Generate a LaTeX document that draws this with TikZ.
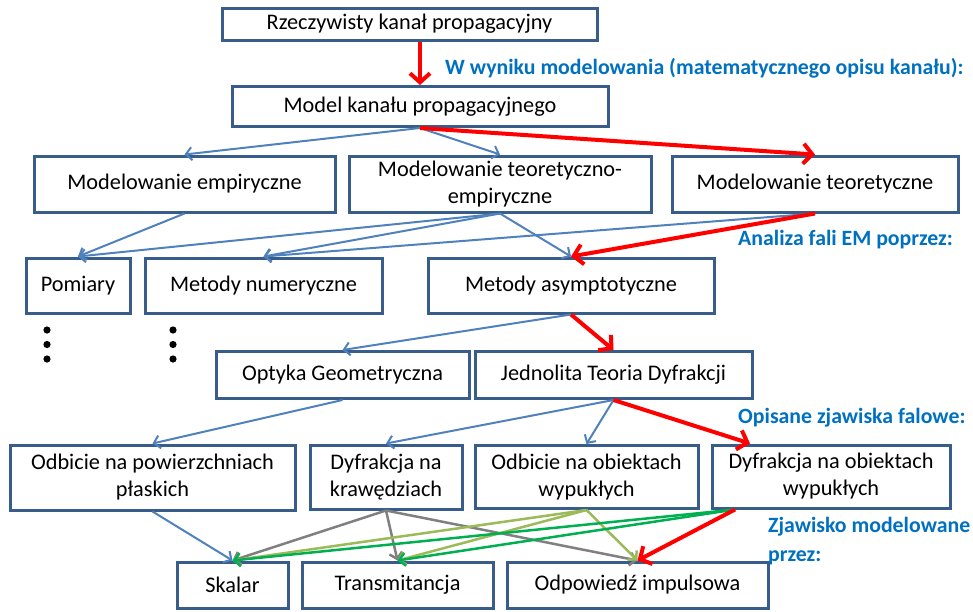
\documentclass[tikz,border=0pt]{standalone}
\usepackage{fontspec}
\setmainfont{Carlito}
\usetikzlibrary{arrows.meta}
\definecolor{boxc}{HTML}{385D8A}
\definecolor{bluec}{HTML}{4F81BD}
\definecolor{labc}{HTML}{0070C0}
\definecolor{grayc}{HTML}{808080}
\definecolor{lgreen}{HTML}{9BBB59}
\definecolor{dgreen}{HTML}{00B050}
\tikzset{
  box/.style={draw=boxc, line width=3pt, fill=white, inner sep=0pt, align=center,
    font=\fontsize{22.3}{27}\selectfont},
  lab/.style={text=labc, font=\bfseries\fontsize{21.8}{29}\selectfont, inner sep=0pt, anchor=west, align=left},
  bl/.style={draw=bluec, line width=2pt, -{Straight Barb[length=6pt,width=13pt]}},
  rd/.style={draw=red, line width=4pt, -{Straight Barb[length=9pt,width=20pt]}},
  gy/.style={draw=grayc, line width=2.5pt, -{Straight Barb[length=6pt,width=13pt]}},
  lg/.style={draw=lgreen, line width=2.5pt, -{Straight Barb[length=6pt,width=13pt]}},
  dg/.style={draw=dgreen, line width=2.5pt, -{Straight Barb[length=6pt,width=13pt]}},
  dotc/.style={fill=black}
}
\begin{document}
\begin{tikzpicture}[x=1pt,y=-1pt]
\useasboundingbox (0,0) rectangle (973,611);
% boxes
\node[box, minimum width=375pt, minimum height=32pt] (r) at (409.5,24) {Rzeczywisty kanał propagacyjny};
\node[box, minimum width=376pt, minimum height=40pt] (m) at (420,106.5) {Model kanału propagacyjnego};
\node[box, minimum width=301pt, minimum height=56pt] (emp) at (184.5,184) {Modelowanie empiryczne};
\node[box, minimum width=302pt, minimum height=56pt] (te) at (500,184) {Modelowanie teoretyczno-\\empiryczne};
\node[box, minimum width=286pt, minimum height=56pt] (teo) at (815,184) {Modelowanie teoretyczne};
\node[box, minimum width=104pt, minimum height=55pt] (pom) at (78,285.5) {Pomiary};
\node[box, minimum width=237pt, minimum height=55pt] (num) at (263.5,285.5) {Metody numeryczne};
\node[box, minimum width=286pt, minimum height=55pt] (asy) at (571,285.5) {Metody asymptotyczne};
\node[box, minimum width=253pt, minimum height=47pt] (opt) at (342.5,375) {Optyka Geometryczna};
\node[box, minimum width=277pt, minimum height=47pt] (jtd) at (613.5,375) {Jednolita Teoria Dyfrakcji};
\node[box, minimum width=285pt, minimum height=65pt] (odp) at (152.5,477.5) {Odbicie na powierzchniach\\płaskich};
\node[box, minimum width=152pt, minimum height=64pt] (dk) at (386,477) {Dyfrakcja na\\krawędziach};
\node[box, minimum width=223pt, minimum height=63pt] (oo) at (586.5,477) {Odbicie na obiektach\\wypukłych};
\node[box, minimum width=238pt, minimum height=63pt] (do) at (831,476.5) {Dyfrakcja na obiektach\\wypukłych};
\node[box, minimum width=111pt, minimum height=46pt] (sk) at (232.5,585) {Skalar};
\node[box, minimum width=191pt, minimum height=46pt] (tr) at (397.5,585) {Transmitancja};
\node[box, minimum width=261pt, minimum height=46pt] (oi) at (637.5,585) {Odpowiedź impulsowa};
% labels
\node[lab] (l1) at (445,68) {W wyniku modelowania (matematycznego opisu kanału):};
\node[lab] (l2) at (738,240) {Analiza fali EM poprzez:};
\node[lab] (l3) at (738,418) {Opisane zjawiska falowe:};
\node[lab] (l4) at (768,541) {Zjawisko modelowane\\przez:};
% dots
\foreach \yy in {330,344.5,359}{
  \fill[dotc] (47,\yy) circle (3.6);
  \fill[dotc] (173,\yy) circle (3.6);
}
% connectors
\draw[rd] (r.south -| m.north) -- (m.north);
\draw[bl] (m.south) -- (emp.north);
\draw[bl] (m.south) -- (te.north);
\draw[rd] (m.south) -- (teo.north);
\draw[bl] (emp.south) -- (pom.north);
\draw[bl] (te.south) -- (pom.north);
\draw[bl] (te.south) -- (num.north);
\draw[bl] (te.south) -- (asy.north);
\draw[bl] (teo.south) -- (num.north);
\draw[rd] (teo.south) -- (asy.north);
\draw[bl] (asy.south) -- (opt.north);
\draw[rd] (asy.south) -- (jtd.north);
\draw[bl] (opt.south) -- (odp.north);
\draw[bl] (jtd.south) -- (dk.north);
\draw[bl] (jtd.south) -- (oo.north);
\draw[rd] (jtd.south) -- ([xshift=-81pt]do.north);
\draw[bl] (odp.south) -- (sk.north);
\draw[gy] (dk.south) -- (sk.north);
\draw[gy] (dk.south) -- (tr.north);
\draw[gy] (dk.south) -- (oi.north);
\draw[lg] (oo.south) -- (sk.north);
\draw[lg] (oo.south) -- (tr.north);
\draw[lg] (oo.south) -- (oi.north);
\draw[dg] ([xshift=-96pt]do.south) -- (sk.north);
\draw[dg] ([xshift=-96pt]do.south) -- (tr.north);
\draw[rd] ([xshift=-96pt]do.south) -- (oi.north);
\end{tikzpicture}
\end{document}
